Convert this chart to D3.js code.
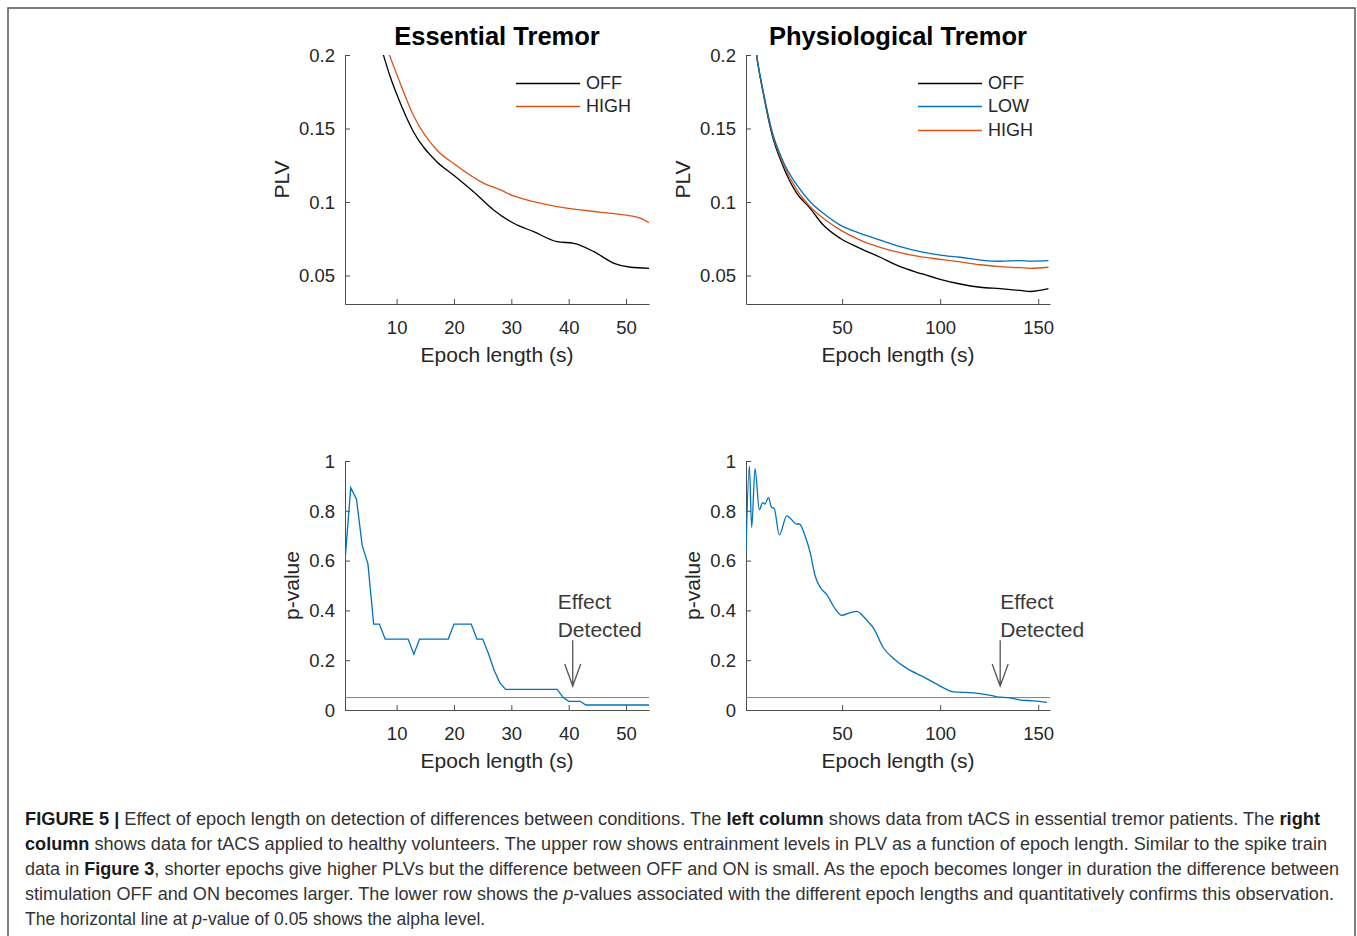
<!DOCTYPE html>
<html>
<head>
<meta charset="utf-8">
<script src="https://cdn.jsdelivr.net/npm/d3@7"></script>
<style>
  body { margin: 0; background: #fff; }
  svg { display: block; font-family: "Liberation Sans", Arial, sans-serif; }
</style>
</head>
<body>
<div id="figure"></div>
<script>
// ---- data ----
// essential tremor, PLV vs epoch length (s)
var etOffEpoch = [7, 7.7, 8.9, 10.3, 12.9, 17.0, 19.9, 23.4, 26.9, 30.4, 33.9, 38.0, 40.9, 44.4, 47.9, 50.8, 54];
var etOffPlv   = [0.209, 0.2, 0.185, 0.1705, 0.148, 0.1274, 0.1184, 0.107, 0.0946, 0.0855, 0.0798, 0.073, 0.0719, 0.0662, 0.0583, 0.0556, 0.0549];
var etHighEpoch = [8, 8.75, 10.3, 12.9, 17.0, 19.9, 25.2, 28.1, 30.4, 33.9, 38.0, 42.1, 45.6, 49.7, 52.6, 54];
var etHighPlv   = [0.208, 0.2, 0.1841, 0.1592, 0.1354, 0.1263, 0.1127, 0.1082, 0.1041, 0.1002, 0.0968, 0.0946, 0.093, 0.0912, 0.0889, 0.0859];

// physiological tremor, PLV vs epoch length (s)
var ptEpoch   = [5, 6.4, 9.8, 14.1, 20, 26.9, 33.7, 40.4, 49, 59.2, 69.4, 79.6, 89.8, 100, 110.2, 120.4, 130.6, 140.8, 146, 155.2];
var ptOffPlv  = [0.215, 0.2, 0.174, 0.1467, 0.124, 0.1059, 0.0957, 0.0843, 0.0753, 0.0685, 0.0624, 0.056, 0.0515, 0.0474, 0.0442, 0.042, 0.041, 0.0398, 0.0391, 0.041];
var ptLowPlv  = [0.215, 0.2, 0.175, 0.149, 0.1274, 0.1116, 0.1002, 0.0923, 0.0843, 0.0787, 0.0741, 0.0696, 0.0662, 0.0639, 0.0624, 0.0605, 0.0597, 0.0601, 0.0598, 0.0601];
var ptHighPlv = [0.215, 0.2, 0.1745, 0.148, 0.1258, 0.1082, 0.0968, 0.0889, 0.081, 0.0741, 0.0692, 0.0655, 0.0628, 0.061, 0.0592, 0.0573, 0.056, 0.0553, 0.0549, 0.0556];

// p-values OFF vs HIGH
var etPEpoch = [1, 2, 3, 4, 5, 6, 7, 8, 12, 13, 14, 19, 20, 23, 24, 25, 26, 27, 28, 29, 38, 39, 40, 42, 43, 54];
var etPValue = [0.6, 0.893, 0.847, 0.66, 0.587, 0.345, 0.345, 0.285, 0.285, 0.224, 0.285, 0.285, 0.345, 0.345, 0.285, 0.285, 0.227, 0.16, 0.109, 0.083, 0.083, 0.051, 0.035, 0.035, 0.02, 0.02];
var ptPEpoch = [1, 2.7, 3.9, 5.6, 7.8, 9.5, 10.7, 12.4, 14.1, 15.3, 18, 21.8, 26.9, 28.2, 31.1, 33.7, 36.2, 38.8, 42.2, 46.4, 49.8, 54.1, 57.5, 60, 63.4, 66, 71.1, 76.2, 83, 91.5, 99.1, 106.8, 117, 122.9, 128.9, 135.7, 140.8, 147.6, 154.4];
var ptPValue = [0.633, 0.98, 0.733, 0.969, 0.804, 0.833, 0.827, 0.853, 0.813, 0.811, 0.703, 0.78, 0.747, 0.747, 0.7, 0.633, 0.54, 0.493, 0.463, 0.407, 0.38, 0.391, 0.396, 0.383, 0.353, 0.329, 0.249, 0.207, 0.167, 0.133, 0.1, 0.073, 0.069, 0.063, 0.053, 0.049, 0.04, 0.037, 0.031];

var plvTicks = [0.05, 0.1, 0.15, 0.2];
var pTicks = [0, 0.2, 0.4, 0.6, 0.8, 1];
var etTicks = [10, 20, 30, 40, 50];
var ptTicks = [50, 100, 150];
var alphaLevel = 0.05;
var etDetected = 40.7, ptDetected = 130.6;

var captionLines = [
  [['b', 'FIGURE 5 | '], ['n', 'Effect of epoch length on detection of differences between conditions. The '], ['b', 'left column'], ['n', ' shows data from tACS in essential tremor patients. The '], ['b', 'right']],
  [['b', 'column'], ['n', ' shows data for tACS applied to healthy volunteers. The upper row shows entrainment levels in PLV as a function of epoch length. Similar to the spike train']],
  [['n', 'data in '], ['b', 'Figure 3'], ['n', ', shorter epochs give higher PLVs but the difference between OFF and ON is small. As the epoch becomes longer in duration the difference between']],
  [['n', 'stimulation OFF and ON becomes larger. The lower row shows the '], ['i', 'p'], ['n', '-values associated with the different epoch lengths and quantitatively confirms this observation.']],
  [['n', 'The horizontal line at '], ['i', 'p'], ['n', '-value of 0.05 shows the alpha level.']]
];
var captionEnds = [1320, 1327, 1339, 1334, null];

var black = '#000000', blue = '#0072BD', orange = '#D95319';

var width = 1357, height = 936;

var svg = d3.select('#figure')
  .append('svg')
  .attr('width', width)
  .attr('height', height);

// outer frame of the figure
svg.append('rect')
  .attr('x', 8).attr('y', 8)
  .attr('width', 1347).attr('height', 1000)
  .attr('fill', 'none')
  .attr('stroke', '#555')
  .attr('stroke-width', 1.5);

var defs = svg.append('defs');
var clipId = 0;

function panel(opts) {
  var x = d3.scaleLinear().domain(opts.xDomain).range([opts.left, opts.right]);
  var y = d3.scaleLinear().domain(opts.yDomain).range([opts.bottom, opts.top]);
  var g = svg.append('g');

  var id = 'clip' + (clipId++);
  defs.append('clipPath').attr('id', id)
    .append('rect')
    .attr('x', opts.left).attr('y', opts.top)
    .attr('width', opts.right - opts.left).attr('height', opts.bottom - opts.top);

  var xAxis = g.append('g')
    .attr('transform', 'translate(0,' + opts.bottom + ')')
    .call(d3.axisBottom(x).tickValues(opts.xTicks).tickSizeInner(-5).tickSizeOuter(0).tickPadding(17));
  var yAxis = g.append('g')
    .attr('transform', 'translate(' + opts.left + ',0)')
    .call(d3.axisLeft(y).tickValues(opts.yTicks).tickFormat(d3.format('~g')).tickSizeInner(-5).tickSizeOuter(0).tickPadding(10));

  [xAxis, yAxis].forEach(function (a) {
    a.select('.domain').attr('stroke', '#4d4d4d').attr('stroke-width', 1);
    a.selectAll('.tick line').attr('stroke', '#4d4d4d');
    a.selectAll('.tick text').attr('fill', '#262626').style('font-size', '18.5px');
  });
  yAxis.selectAll('.tick text').attr('dy', '0.34em');

  g.append('text')
    .attr('x', (opts.left + opts.right) / 2)
    .attr('y', opts.bottom + 58)
    .attr('text-anchor', 'middle')
    .attr('fill', '#262626')
    .style('font-size', '21px')
    .text('Epoch length (s)');

  g.append('text')
    .attr('transform', 'translate(' + opts.yLabelX + ',' + ((opts.top + opts.bottom) / 2) + ') rotate(-90)')
    .attr('text-anchor', 'middle')
    .attr('dy', '0.35em')
    .attr('fill', '#262626')
    .style('font-size', '21px')
    .text(opts.yLabel);

  var plot = g.append('g').attr('clip-path', 'url(#' + id + ')');
  return { x: x, y: y, g: g, plot: plot };
}

function drawLine(p, xs, ys, color, curve) {
  var line = d3.line()
    .x(function (d) { return p.x(d[0]); })
    .y(function (d) { return p.y(d[1]); })
    .curve(curve || d3.curveMonotoneX);
  p.plot.append('path')
    .datum(d3.zip(xs, ys))
    .attr('fill', 'none')
    .attr('stroke', color)
    .attr('stroke-width', 1.3)
    .attr('d', line);
}

function legend(p, entries, x0, y0) {
  entries.forEach(function (e, i) {
    var yy = y0 + i * 23.5;
    p.g.append('line')
      .attr('x1', x0).attr('x2', x0 + 64)
      .attr('y1', Math.round(yy) + 0.5).attr('y2', Math.round(yy) + 0.5)
      .attr('stroke', e[1]).attr('stroke-width', 1.3);
    p.g.append('text')
      .attr('x', x0 + 70).attr('y', yy)
      .attr('dy', '0.36em')
      .attr('fill', '#262626')
      .style('font-size', '18px')
      .text(e[0]);
  });
}

function title(p, txt) {
  var r = p.x.range();
  p.g.append('text')
    .attr('x', (r[0] + r[1]) / 2).attr('y', 45)
    .attr('text-anchor', 'middle')
    .attr('font-weight', 'bold')
    .attr('fill', '#000')
    .style('font-size', '25.5px')
    .text(txt);
}

function pPanelExtras(p, detected, textOffset) {
  var r = p.x.range();
  p.plot.append('line')
    .attr('x1', r[0]).attr('x2', r[1])
    .attr('y1', p.y(alphaLevel)).attr('y2', p.y(alphaLevel))
    .attr('stroke', '#808080').attr('stroke-width', 1);

  var ax = p.x(detected);
  var top = p.y(0.28), tip = p.y(0.096);
  p.g.append('path')
    .attr('d', 'M' + ax + ',' + top + 'V' + tip + 'M' + (ax - 8) + ',' + (tip - 22) + 'L' + ax + ',' + tip + 'L' + (ax + 8) + ',' + (tip - 22))
    .attr('fill', 'none')
    .attr('stroke', '#555')
    .attr('stroke-width', 1.3);
  ['Effect', 'Detected'].forEach(function (t, i) {
    p.g.append('text')
      .attr('x', ax + textOffset).attr('y', p.y(0.28) - 31 + i * 28)
      .attr('fill', '#3a3a3a')
      .style('font-size', '21px')
      .text(t);
  });
}

// top-left: essential tremor PLV
var tl = panel({ left: 345, right: 649, top: 55, bottom: 304, xDomain: [1, 54], yDomain: [0.0306, 0.2],
  xTicks: etTicks, yTicks: plvTicks, yLabel: 'PLV', yLabelX: 282 });
drawLine(tl, etOffEpoch, etOffPlv, black);
drawLine(tl, etHighEpoch, etHighPlv, orange);
legend(tl, [['OFF', black], ['HIGH', orange]], 516, 82.5);
title(tl, 'Essential Tremor');

// top-right: physiological tremor PLV
var tr = panel({ left: 746, right: 1050, top: 55, bottom: 304, xDomain: [1, 156], yDomain: [0.0306, 0.2],
  xTicks: ptTicks, yTicks: plvTicks, yLabel: 'PLV', yLabelX: 683 });
drawLine(tr, ptEpoch, ptOffPlv, black);
drawLine(tr, ptEpoch, ptHighPlv, orange);
drawLine(tr, ptEpoch, ptLowPlv, blue);
legend(tr, [['OFF', black], ['LOW', blue], ['HIGH', orange]], 918, 82.5);
title(tr, 'Physiological Tremor');

// bottom-left: essential tremor p-values
var bl = panel({ left: 345, right: 649, top: 461, bottom: 710, xDomain: [1, 54], yDomain: [0, 1],
  xTicks: etTicks, yTicks: pTicks, yLabel: 'p-value', yLabelX: 292 });
pPanelExtras(bl, etDetected, -15);
drawLine(bl, etPEpoch, etPValue, blue, d3.curveLinear);

// bottom-right: physiological tremor p-values
var br = panel({ left: 746, right: 1050, top: 461, bottom: 710, xDomain: [1, 156], yDomain: [0, 1],
  xTicks: ptTicks, yTicks: pTicks, yLabel: 'p-value', yLabelX: 693 });
pPanelExtras(br, ptDetected, 0);
drawLine(br, ptPEpoch, ptPValue, blue);

// caption
var cap = svg.append('g').style('font-size', '17.5px');
captionLines.forEach(function (parts, i) {
  var t = cap.append('text')
    .attr('x', 25).attr('y', 825 + i * 25)
    .attr('fill', '#333');
  parts.forEach(function (pt) {
    var s = t.append('tspan').text(pt[1]);
    if (pt[0] === 'b') s.attr('font-weight', 'bold').attr('fill', '#1a1a1a');
    if (pt[0] === 'i') s.attr('font-style', 'italic');
  });
  if (captionEnds[i]) {
    t.attr('textLength', captionEnds[i] - 25).attr('lengthAdjust', 'spacingAndGlyphs');
  }
});
</script>
</body>
</html>
